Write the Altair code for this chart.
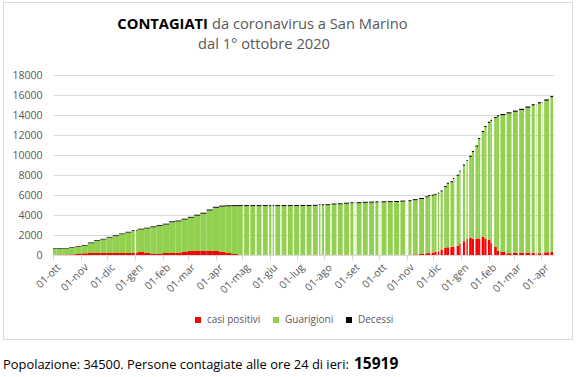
import altair as alt
import pandas as pd

# ---------------- dati ----------------
date_lettura = [
    "2020-10-01", "2020-10-05", "2020-10-12", "2020-10-19", "2020-10-26",
    "2020-11-02", "2020-11-09", "2020-11-16", "2020-11-23", "2020-11-30",
    "2020-12-07", "2020-12-14", "2020-12-21", "2020-12-28",
    "2021-01-04", "2021-01-11", "2021-01-18", "2021-01-25",
    "2021-02-01", "2021-02-08", "2021-02-15", "2021-02-22",
    "2021-03-01", "2021-03-08", "2021-03-15", "2021-03-22", "2021-03-29",
    "2021-04-05", "2021-04-12", "2021-04-19", "2021-04-26",
    "2021-05-03", "2021-05-10", "2021-05-17", "2021-05-24", "2021-05-31",
    "2021-06-07", "2021-06-14", "2021-06-21", "2021-06-28",
    "2021-07-05", "2021-07-12", "2021-07-19", "2021-07-26",
    "2021-08-02", "2021-08-09", "2021-08-16", "2021-08-23", "2021-08-30",
    "2021-09-06", "2021-09-13", "2021-09-20", "2021-09-27",
    "2021-10-04", "2021-10-11", "2021-10-18", "2021-10-25",
    "2021-11-01", "2021-11-08", "2021-11-15",
    "2021-11-22", "2021-11-25", "2021-11-29",
    "2021-12-02", "2021-12-06", "2021-12-09", "2021-12-13", "2021-12-16",
    "2021-12-20", "2021-12-23", "2021-12-27", "2021-12-30",
    "2022-01-03", "2022-01-07", "2022-01-10", "2022-01-13", "2022-01-17",
    "2022-01-20", "2022-01-24", "2022-01-27", "2022-01-31",
    "2022-02-03", "2022-02-07", "2022-02-10", "2022-02-14", "2022-02-21", "2022-02-28",
    "2022-03-07", "2022-03-14", "2022-03-21", "2022-03-28",
    "2022-04-04", "2022-04-11",
]
totale = [
    680, 690, 710, 770, 880,
    1000, 1240, 1470, 1620, 1810,
    1970, 2150, 2320, 2470,
    2630, 2730, 2860, 3000,
    3130, 3370, 3450, 3630,
    3820, 4030, 4230, 4550, 4820,
    4940, 4970, 4980, 4990,
    4990, 4990, 4990, 4990, 4990,
    4990, 4990, 4990, 4990,
    4995, 5000, 5020, 5070,
    5080, 5150, 5170, 5230, 5270,
    5280, 5320, 5340, 5360,
    5370, 5380, 5400, 5440,
    5480, 5580, 5700,
    5870, 5990, 6030,
    6120, 6240, 6450, 6900, 7230,
    7370, 7700, 8030, 8450,
    9050, 9500, 9920, 10400, 10950,
    11700, 12400, 12900, 13330,
    13520, 13800, 13970, 14100, 14270, 14440,
    14620, 14850, 15080, 15280,
    15560, 15900,
]
positivi = [
    20, 30, 40, 60, 100,
    170, 200, 200, 200, 200,
    200, 200, 200, 200,
    300, 200, 150, 150,
    200, 200, 200, 300,
    420, 400, 400, 400, 400,
    330, 200, 100, 30,
    10, 10, 10, 10, 10,
    10, 10, 10, 10,
    10, 20, 30, 30,
    30, 30, 30, 30, 30,
    20, 20, 20, 20,
    20, 20, 20, 30,
    40, 60, 100,
    180, 230, 250,
    330, 380, 550, 700, 780,
    820, 830, 930, 1150,
    1380, 1600, 1700, 1620, 1650,
    1650, 1800, 1650, 1520,
    1200, 800, 430, 300, 180, 200,
    230, 230, 220, 180,
    270, 320,
]
decessi = [
    60, 60, 60, 60, 60,
    65, 65, 70, 70, 70,
    75, 75, 75, 80,
    80, 80, 85, 85,
    85, 90, 90, 90,
    90, 90, 95, 95, 95,
    100, 100, 100, 100,
    100, 100, 100, 100, 100,
    100, 100, 100, 100,
    100, 100, 100, 100,
    100, 100, 100, 100, 100,
    100, 100, 100, 100,
    100, 100, 100, 100,
    100, 100, 100,
    100, 100, 100,
    100, 100, 105, 105, 105,
    105, 105, 105, 105,
    110, 110, 110, 110, 110,
    110, 110, 110, 110,
    115, 115, 115, 115, 115, 115,
    120, 120, 120, 120,
    120, 120,
]

primo_giorno = "2020-10-01"
ultimo_giorno = "2022-04-13"
fine_asse = "2022-04-15"
domeniche_senza_dati_dal = "2021-05-02"
giorni_senza_dati = [
    "2021-01-01", "2021-06-03", "2021-07-28", "2021-09-03", "2021-10-01",
    "2021-11-01", "2021-11-02", "2021-12-08", "2021-12-25", "2022-01-01",
    "2022-01-06", "2022-02-05", "2022-03-25", "2022-04-01",
]

serie = ["casi positivi", "Guarigioni", "Decessi"]
colori = ["#ff0000", "#92d050", "#000000"]
mesi = ["gen", "feb", "mar", "apr", "mag", "giu", "lug", "ago", "set", "ott", "nov", "dic"]
tick_mesi = [
    "2020-10-01", "2020-11-01", "2020-12-01", "2021-01-01", "2021-02-01",
    "2021-03-01", "2021-04-01", "2021-05-01", "2021-06-01", "2021-07-01",
    "2021-08-01", "2021-09-01", "2021-10-01", "2021-11-01", "2021-12-01",
    "2022-01-01", "2022-02-01", "2022-03-01", "2022-04-01",
]
tick_y = [0, 2000, 4000, 6000, 8000, 10000, 12000, 14000, 16000, 18000]

titolo_grassetto = "CONTAGIATI"
titolo_resto = "da coronavirus a San Marino"
sottotitolo = "dal 1° ottobre 2020"
nota = "Popolazione: 34500. Persone contagiate alle ore 24 di ieri:"
nota_numero = "15919"

# ---------------- tabella dei segmenti ----------------
letture = pd.DataFrame({
    "data": pd.to_datetime(date_lettura),
    "pos": positivi, "tot": totale, "dec": decessi,
})
letture["gua"] = letture["tot"] - letture["pos"] - letture["dec"]

mancanti = set(pd.to_datetime(giorni_senza_dati))
dal = pd.Timestamp(domeniche_senza_dati_dal)
segmenti = []
corrente = None
for g in pd.date_range(primo_giorno, ultimo_giorno, freq="D"):
    if g in mancanti or (g >= dal and g.dayofweek == 6):
        if corrente is not None:
            corrente["buco"] = 1
        corrente = None
        continue
    idx = int(letture["data"].searchsorted(g, side="right")) - 1
    if corrente is not None and corrente["idx"] == idx:
        corrente["fine"] = g + pd.Timedelta(days=1)
    else:
        corrente = {"idx": idx, "inizio": g, "fine": g + pd.Timedelta(days=1), "buco": 0}
        segmenti.append(corrente)

righe = []
for s in segmenti:
    r = letture.iloc[s["idx"]]
    for k, (nome, col) in enumerate(zip(serie, ["pos", "gua", "dec"])):
        righe.append({
            "inizio": s["inizio"].strftime("%Y-%m-%d"),
            "fine": s["fine"].strftime("%Y-%m-%d"),
            "buco": s["buco"],
            "serie": nome, "ordine": k, "valore": float(r[col]),
        })
df = pd.DataFrame(righe)


def ms(d):
    return int(pd.Timestamp(d, tz="UTC").timestamp() * 1000)


FONT = "Open Sans"
GRIGIO = "#595959"
LINEA = "#d9d9d9"

mesi_expr = "[" + ",".join("'%s'" % m for m in mesi) + "]"

x_enc = alt.X(
    "inizio:T", title=None,
    scale=alt.Scale(type="utc", domain=[ms(primo_giorno), ms(fine_asse)]),
    axis=alt.Axis(values=[ms(t) for t in tick_mesi],
                  labelExpr="'01-' + " + mesi_expr + "[utcmonth(datum.value)]",
                  labelAngle=-45, labelAlign="right", labelBaseline="top",
                  labelPadding=2, labelOffset=2,
                  labelFont=FONT, labelFontSize=10.5, labelColor=GRIGIO,
                  labelOverlap=False, labelFlush=False, labelBound=False,
                  tickColor=LINEA, tickSize=5, domainColor=LINEA, grid=False),
)
y_enc = alt.Y(
    "y0:Q", title=None,
    scale=alt.Scale(domain=[0, 18000], nice=False),
    axis=alt.Axis(values=tick_y, format="d", grid=True, gridColor=LINEA,
                  domain=False, ticks=False, labelPadding=11,
                  labelFont=FONT, labelFontSize=10.5, labelColor=GRIGIO),
)
col_enc = alt.Color(
    "serie:N", scale=alt.Scale(domain=serie, range=colori),
    legend=alt.Legend(orient="none", legendX=140, legendY=240,
                      direction="horizontal", title=None,
                      symbolType="square", symbolSize=36,
                      symbolStrokeWidth=0, labelFont=FONT,
                      labelFontSize=10.0, labelColor=GRIGIO,
                      columnPadding=10, labelOffset=4, padding=0),
)

base = alt.Chart(df).transform_stack(
    stack="valore", groupby=["inizio"], as_=["y0", "y1"],
    sort=[alt.SortField("ordine", order="ascending")],
)
# segmenti contigui
barre_piene = base.transform_filter("datum.buco == 0").mark_bar(cornerRadius=0).encode(
    x=x_enc, x2="fine:T", y=y_enc, y2="y1:Q", color=col_enc,
)
# segmenti seguiti da un giorno senza dati
barre_buco = base.transform_filter("datum.buco == 1").mark_bar(
    cornerRadius=0, x2Offset=-0.5,
).encode(
    x=x_enc, x2="fine:T", y=y_enc, y2="y1:Q", color=col_enc,
)


def testo(t, x, y, size, weight="normal", color=GRIGIO, align="left"):
    return alt.Chart(pd.DataFrame({"t": [t]})).mark_text(
        align=align, baseline="alphabetic", font=FONT, fontSize=size,
        fontWeight=weight, color=color,
    ).encode(text="t:N", x=alt.value(x), y=alt.value(y))


cornice = alt.Chart(pd.DataFrame({"a": [0]})).mark_rect(
    fillOpacity=0, stroke=LINEA, strokeWidth=1,
).encode(x=alt.value(-49.5), x2=alt.value(519.5), y=alt.value(-72.5), y2=alt.value(264.5))

chart = alt.layer(
    cornice,
    barre_piene,
    barre_buco,
    testo(titolo_grassetto, 155, -45.7, 14.7, "bold", "#000000", "right"),
    testo(titolo_resto, 159, -45.7, 14.7),
    testo(sottotitolo, 211, -26, 14.7, align="center"),
    testo(nota, -50, 294, 12.9, color="#000000"),
    testo(nota_numero, 301, 294, 15.5, "bold", "#000000"),
).properties(
    width=501, height=180,
    autosize=alt.AutoSizeParams(type="none"),
    padding={"left": 53, "top": 75, "right": 22, "bottom": 122},
).configure_view(strokeWidth=0)

chart.save("out.html", embed_options={"renderer": "svg", "actions": False})
